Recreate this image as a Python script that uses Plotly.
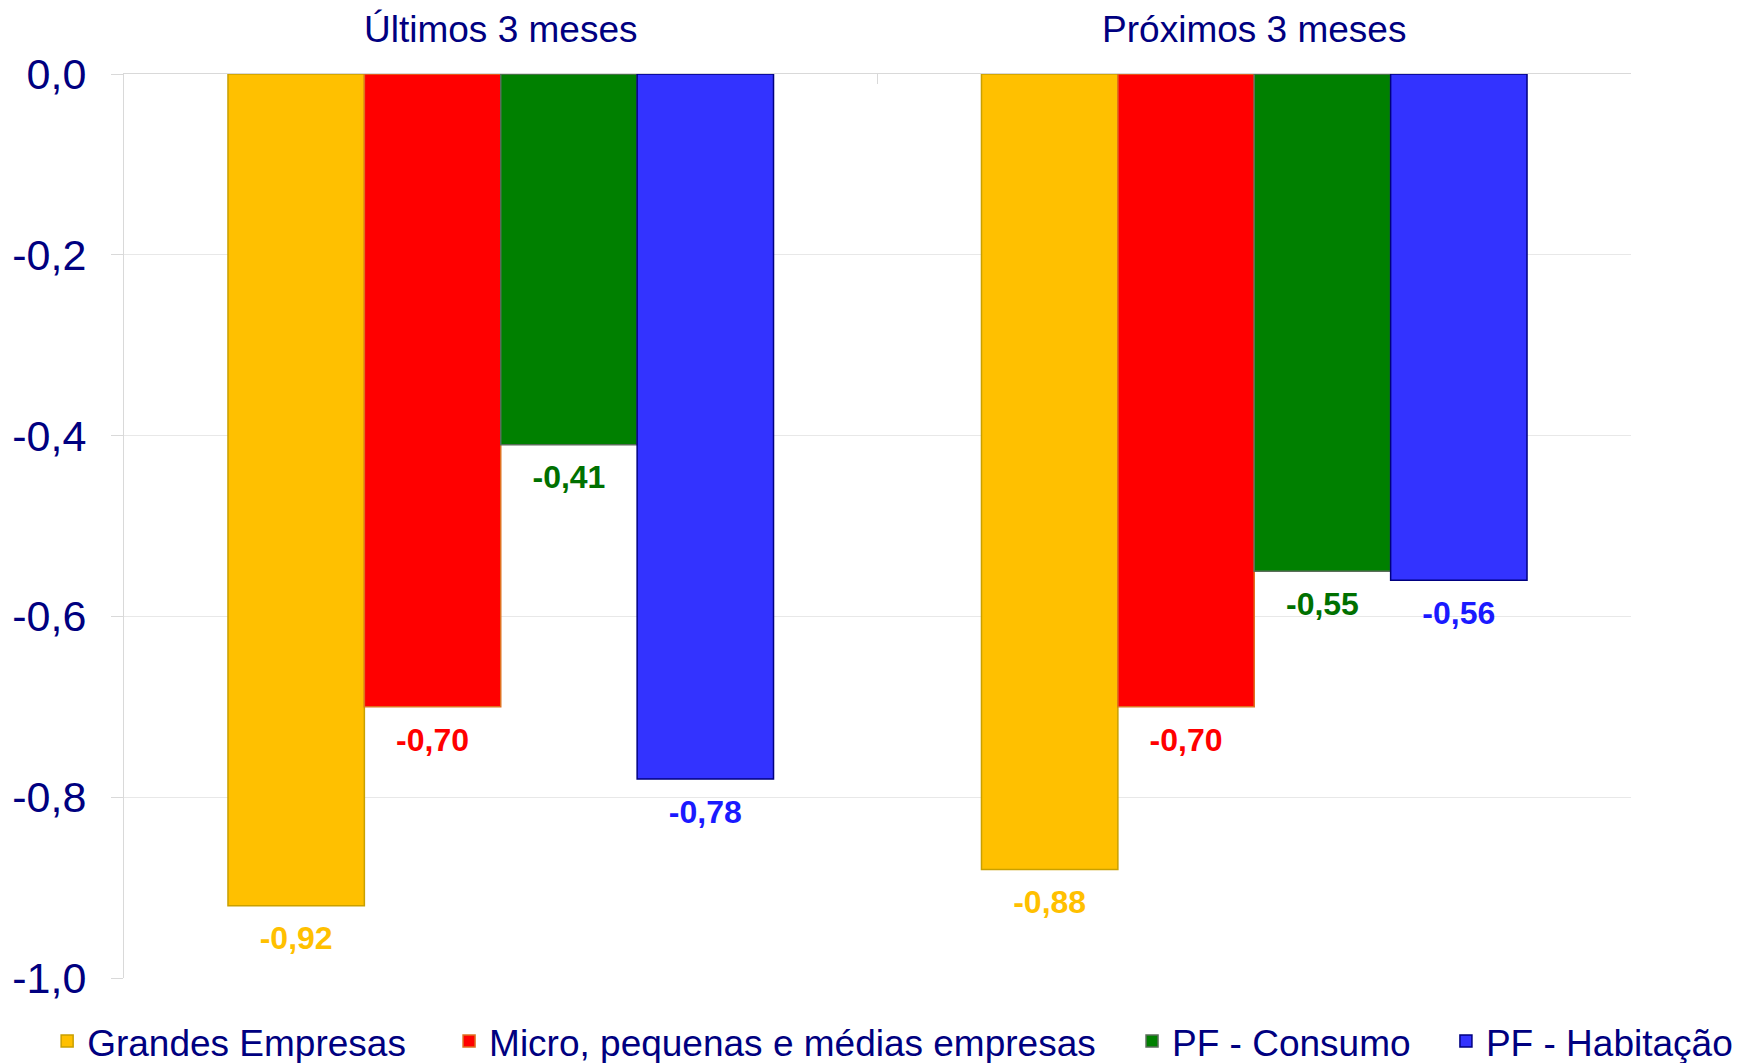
import plotly.graph_objects as go

periodos = ["Últimos 3 meses", "Próximos 3 meses"]
series = ["Grandes Empresas", "Micro, pequenas e médias empresas", "PF - Consumo", "PF - Habitação"]
grandes = [-0.92, -0.88]
micro = [-0.70, -0.70]
consumo = [-0.41, -0.55]
habitacao = [-0.78, -0.56]

y_ticks = [0.0, -0.2, -0.4, -0.6, -0.8, -1.0]
y_rotulos = ["0,0", "-0,2", "-0,4", "-0,6", "-0,8", "-1,0"]

cores = ["#FFC000", "#FF0000", "#008000", "#3333FF"]
bordas = ["#C9A000", "#E07020", "#5A6E5A", "#000080"]
cores_rotulo = ["#FFC000", "#FF0000", "#007000", "#1A1AFF"]
navy = "#000080"

# uma legenda por série, para reproduzir o espaçamento do original
legendas = ["legend", "legend2", "legend3", "legend4"]
legenda_x = [-0.051, 0.2157, 0.6689, 0.8772]

fig = go.Figure()

valores = [grandes, micro, consumo, habitacao]
for nome, v, cor, borda, lg in zip(series, valores, cores, bordas, legendas):
    fig.add_trace(go.Bar(
        x=periodos, y=v, name=nome, legend=lg,
        marker=dict(color=cor, line=dict(color=borda, width=1.5)),
        hoverinfo="skip",
    ))

# rótulos como texto de scatter agrupado, para afastar do fim da barra
for nome, v, cor in zip(series, valores, cores_rotulo):
    fig.add_trace(go.Scatter(
        x=periodos, y=v, mode="markers+text", showlegend=False,
        marker=dict(size=30, color="rgba(0,0,0,0)"),
        text=[f"{a:.2f}".replace(".", ",") for a in v],
        textposition="bottom center",
        textfont=dict(family="Liberation Sans, Arial", size=32, color=cor, weight="bold"),
        hoverinfo="skip",
    ))

fig.update_layout(
    width=1734, height=1055,
    margin=dict(l=116, r=111, t=66, b=85, autoexpand=False),
    barmode="group", bargap=0.276, bargroupgap=0,
    scattermode="group", scattergap=0.276,
    plot_bgcolor="white", paper_bgcolor="white",
    font=dict(family="Liberation Sans, Arial", color=navy),
    xaxis=dict(
        side="top", tickson="boundaries", ticks="inside", ticklen=10,
        tickcolor="#D9D9D9", showline=True, linecolor="#D9D9D9",
        showgrid=False, tickfont=dict(size=37, color=navy),
        ticklabelstandoff=16, automargin=False,
    ),
    yaxis=dict(
        range=[-1, 0], tickvals=y_ticks, ticktext=y_rotulos,
        showgrid=True, gridcolor="#E8E8E8", zeroline=False,
        showline=True, linecolor="#D9D9D9",
        ticks="outside", ticklen=12, tickcolor="#D9D9D9",
        tickfont=dict(size=43, color=navy), ticklabelstandoff=16,
        automargin=False,
    ),
)

for lg, lx in zip(legendas, legenda_x):
    fig.update_layout({lg: dict(
        orientation="h", x=lx, xanchor="left", y=-0.036, yanchor="top",
        font=dict(size=37, color=navy), itemwidth=30,
        bgcolor="rgba(0,0,0,0)",
    )})

fig.write_html("out.html")
